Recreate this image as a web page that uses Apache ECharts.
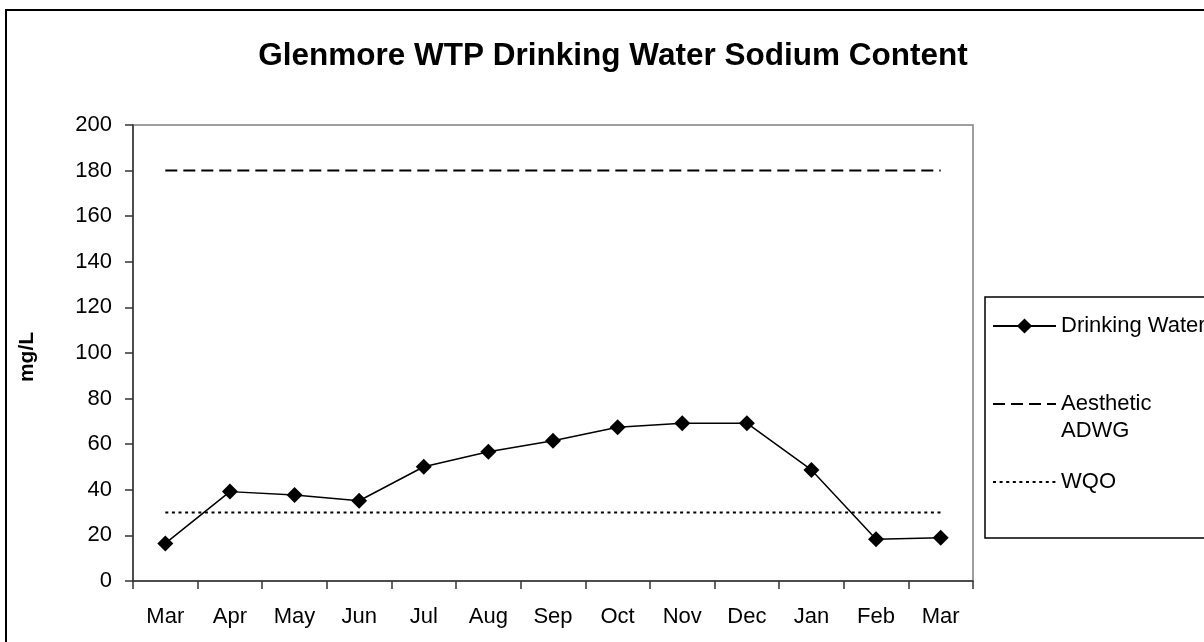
<!DOCTYPE html>
<html><head><meta charset="utf-8">
<script src="https://cdn.jsdelivr.net/npm/echarts@6/dist/echarts.min.js"></script>
<style>html,body{margin:0;padding:0;background:#fff}#c{width:1204px;height:642px}</style>
</head><body><div id="c"></div>
<script>
const months = ['Mar','Apr','May','Jun','Jul','Aug','Sep','Oct','Nov','Dec','Jan','Feb','Mar'];
const drinkingWater = [16.5, 39.2, 37.7, 35.2, 50.1, 56.7, 61.5, 67.4, 69.2, 69.2, 48.7, 18.3, 19.0];
const aestheticADWG = [180, 180, 180, 180, 180, 180, 180, 180, 180, 180, 180, 180, 180];
const wqo = [30, 30, 30, 30, 30, 30, 30, 30, 30, 30, 30, 30, 30];
const yMin = 0, yMax = 200, yStep = 20;

const FONT = "'Liberation Sans', Arial, sans-serif";
const chart = echarts.init(document.getElementById('c'), null, {renderer: 'canvas'});

const legendBase = {
  orient: 'vertical', itemWidth: 63, itemHeight: 19, itemGap: 0, padding: 0,
  selectedMode: false,
  textStyle: {fontSize: 22, color: '#000', fontFamily: FONT, lineHeight: 22}
};

chart.setOption({
  backgroundColor: '#fff',
  animation: false,
  title: {
    text: 'Glenmore WTP Drinking Water Sodium Content',
    left: 613, top: 40, padding: 0, textAlign: 'center',
    textStyle: {fontSize: 31.5, fontWeight: 'bold', color: '#000', fontFamily: FONT}
  },
  grid: {left: 133, right: 231, top: 125, bottom: 61, show: true, borderColor: '#808080', borderWidth: 1.5, containLabel: false},
  xAxis: {
    type: 'category', data: months, boundaryGap: true,
    axisLine: {lineStyle: {color: '#333', width: 1.5}},
    axisTick: {show: true, interval: 0, length: 8, lineStyle: {color: '#333', width: 1.5}},
    axisLabel: {interval: 0, margin: 25, fontSize: 22, color: '#000', fontFamily: FONT},
    splitLine: {show: false}
  },
  yAxis: {
    type: 'value', min: yMin, max: yMax, interval: yStep,
    name: 'mg/L', nameLocation: 'middle', nameGap: 95, nameRotate: 90,
    nameTextStyle: {fontSize: 21, fontWeight: 'bold', color: '#000', fontFamily: FONT, padding: [0, 0, 0, -8]},
    axisLine: {show: true, lineStyle: {color: '#333', width: 1.5}},
    axisTick: {show: true, length: 8, lineStyle: {color: '#333', width: 1.5}},
    axisLabel: {margin: 21, fontSize: 22, color: '#000', fontFamily: FONT},
    splitLine: {show: false}
  },
  legend: [
    Object.assign({}, legendBase, {left: 992, top: 315, data: ['Drinking Water']}),
    Object.assign({}, legendBase, {left: 992, top: 363.5, data: ['Aesthetic ADWG'],
      itemStyle: {opacity: 0},
      formatter: function(n){ return ' \nAesthetic\nADWG'; },
      textStyle: {fontSize: 22, color: '#000', fontFamily: FONT, lineHeight: 27}}),
    Object.assign({}, legendBase, {left: 992, top: 471, data: ['WQO'], itemStyle: {opacity: 0}})
  ],
  graphic: [
    {type: 'rect', z: 100, silent: true, shape: {x: 6, y: 10, width: 1400, height: 900}, style: {fill: 'none', stroke: '#000', lineWidth: 2}},
    {type: 'rect', z: 100, silent: true, shape: {x: 985, y: 297, width: 400, height: 241}, style: {fill: 'none', stroke: '#000', lineWidth: 1.5}}
  ],
  series: [
    {name: 'Drinking Water', type: 'line', data: drinkingWater, symbol: 'diamond', symbolSize: 16,
     itemStyle: {color: '#000'}, lineStyle: {color: '#000', width: 1.5}, z: 5},
    {name: 'Aesthetic ADWG', type: 'line', data: aestheticADWG, symbol: 'none',
     itemStyle: {color: '#000'}, lineStyle: {color: '#000', width: 2, type: [12, 6]}},
    {name: 'WQO', type: 'line', data: wqo, symbol: 'none',
     itemStyle: {color: '#000'}, lineStyle: {color: '#000', width: 2, type: [3, 3.6]}}
  ]
});
</script></body></html>
